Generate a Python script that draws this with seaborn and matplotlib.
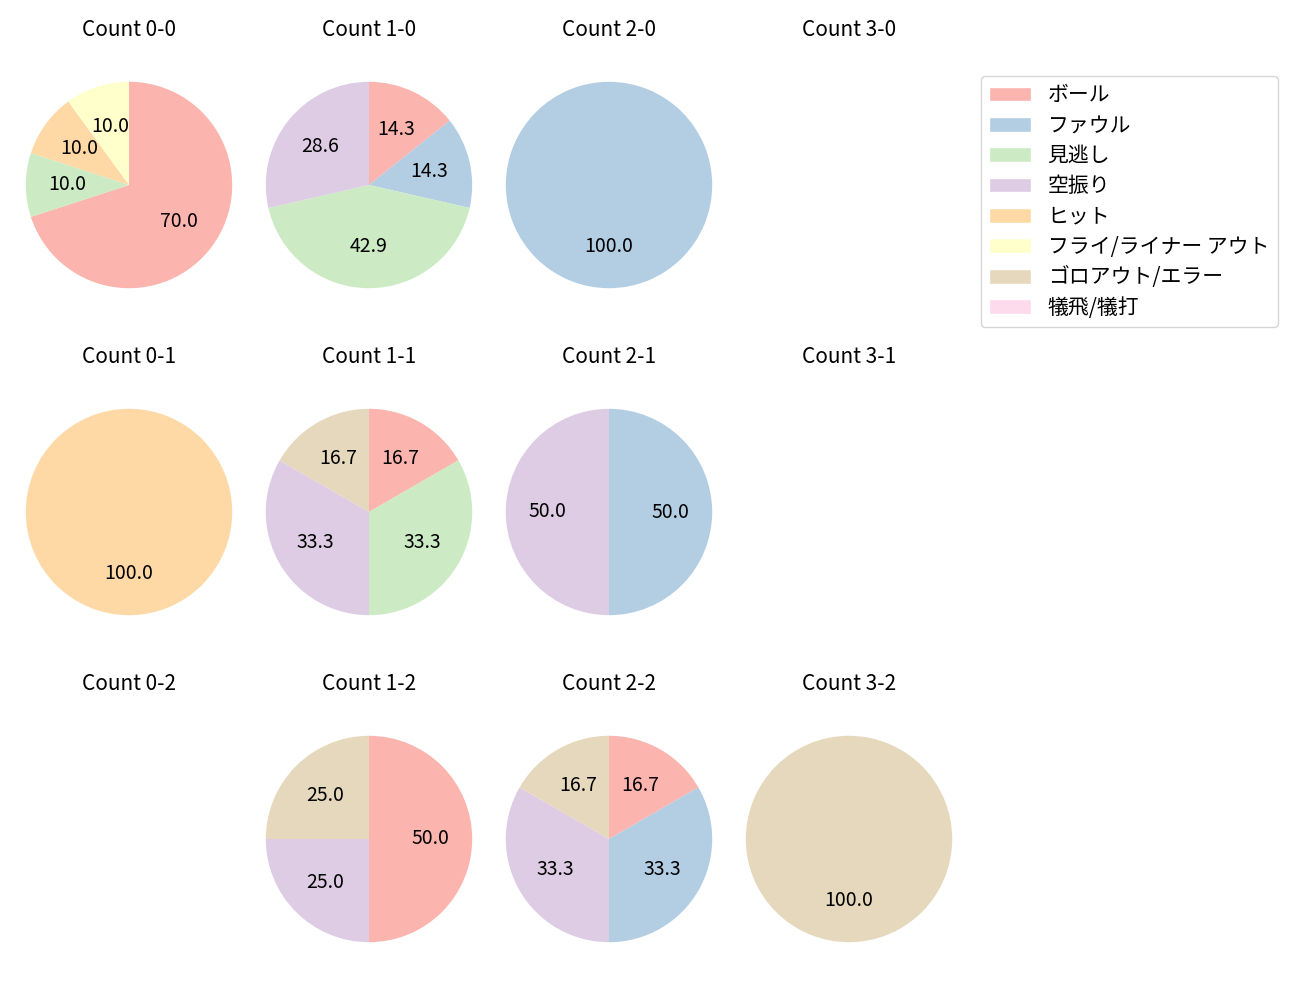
import matplotlib
matplotlib.use("Agg")
import matplotlib.pyplot as plt
import seaborn as sns
from matplotlib.patches import Patch

sns.set_theme(style="white")
plt.rcParams['font.family'] = ['Noto Sans CJK JP', 'DejaVu Sans']
plt.rcParams['text.color'] = 'black'

categories = ["ボール", "ファウル", "見逃し", "空振り", "ヒット",
              "フライ/ライナー アウト", "ゴロアウト/エラー", "犠飛/犠打"]
colors = sns.color_palette("Pastel1", 8)

balls = [0, 1, 2, 3]
strikes = [0, 1, 2]

# counts per category, order as in categories
count_0_0 = [7, 0, 1, 0, 1, 1, 0, 0]
count_1_0 = [1, 1, 3, 2, 0, 0, 0, 0]
count_2_0 = [0, 1, 0, 0, 0, 0, 0, 0]
count_3_0 = [0, 0, 0, 0, 0, 0, 0, 0]
count_0_1 = [0, 0, 0, 0, 1, 0, 0, 0]
count_1_1 = [1, 0, 2, 2, 0, 0, 1, 0]
count_2_1 = [0, 1, 0, 1, 0, 0, 0, 0]
count_3_1 = [0, 0, 0, 0, 0, 0, 0, 0]
count_0_2 = [0, 0, 0, 0, 0, 0, 0, 0]
count_1_2 = [2, 0, 0, 1, 0, 0, 1, 0]
count_2_2 = [1, 2, 0, 2, 0, 0, 1, 0]
count_3_2 = [0, 0, 0, 0, 0, 0, 1, 0]

data = {
    (0, 0): count_0_0, (1, 0): count_1_0, (2, 0): count_2_0, (3, 0): count_3_0,
    (0, 1): count_0_1, (1, 1): count_1_1, (2, 1): count_2_1, (3, 1): count_3_1,
    (0, 2): count_0_2, (1, 2): count_1_2, (2, 2): count_2_2, (3, 2): count_3_2,
}

W, H = 1300, 1000
fig = plt.figure(figsize=(13, 10), dpi=100)

col_cx = [129, 369, 609, 849]
row_cy = [185, 512, 839]
box = 258

for s in strikes:
    for b in balls:
        cx, cy = col_cx[b], row_cy[s]
        ax = fig.add_axes([(cx - box / 2) / W, 1 - (cy + box / 2) / H, box / W, box / H])
        vals = data[(b, s)]
        idx = [i for i, v in enumerate(vals) if v > 0]
        if idx:
            ax.pie([vals[i] for i in idx], colors=[colors[i] for i in idx],
                   autopct='%.1f', startangle=90, counterclock=False,
                   wedgeprops={'linewidth': 0, 'edgecolor': 'none'},
                   textprops={'fontsize': 14, 'color': 'black'})
        ax.set_xlim(-1.25, 1.25)
        ax.set_ylim(-1.25, 1.25)
        ax.set_aspect('equal')
        ax.axis('off')
        ax.set_title(f"Count {b}-{s}", fontsize=15, pad=14.5, color='black')

handles = [Patch(facecolor=c, label=l) for c, l in zip(colors, categories)]
fig.legend(handles=handles, loc='upper left', bbox_to_anchor=(981 / W, 1 - 76 / H),
           fontsize=15, frameon=True, handlelength=2.0, handleheight=0.72,
           handletextpad=0.8, labelspacing=0.4, borderpad=0.4, borderaxespad=0)

fig.savefig("out.png", dpi=100)
